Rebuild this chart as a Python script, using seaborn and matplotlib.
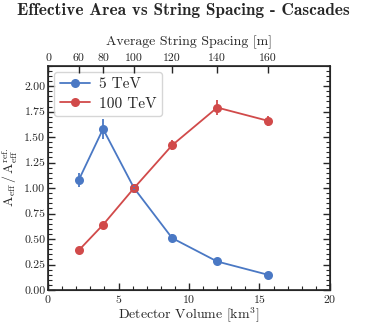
import matplotlib
matplotlib.use('Agg')
import matplotlib.pyplot as plt
import pandas as pd
import seaborn as sns
from matplotlib.ticker import MultipleLocator

# Data
volume = [2.18, 3.9, 6.1, 8.8, 12.0, 15.6]  # km^3
spacing = [60, 80, 100, 120, 140, 160]  # m
ratio_5tev = [1.08, 1.58, 1.00, 0.51, 0.28, 0.15]
err_5tev = [0.07, 0.10, 0.02, 0.04, 0.02, 0.02]
ratio_100tev = [0.39, 0.64, 1.00, 1.42, 1.79, 1.66]
err_100tev = [0.02, 0.02, 0.01, 0.05, 0.07, 0.05]

df = pd.DataFrame({
    'volume': volume * 2,
    'ratio': ratio_5tev + ratio_100tev,
    'err': err_5tev + err_100tev,
    'energy': ['5 TeV'] * 6 + ['100 TeV'] * 6,
})

sns.set_style('ticks')
plt.rcParams['font.family'] = ['cmr10', 'DejaVu Serif']
plt.rcParams['mathtext.fontset'] = 'cm'
plt.rcParams['axes.formatter.use_mathtext'] = True
plt.rcParams['axes.unicode_minus'] = False

colors = {'5 TeV': '#4a78c4', '100 TeV': '#d14a4a'}

fig = plt.figure(figsize=(3.67, 3.27), dpi=100)
ax = fig.add_axes([0.131, 0.113, 0.768, 0.686])

sns.lineplot(data=df, x='volume', y='ratio', hue='energy', palette=colors,
             marker='o', markersize=6.5, markeredgewidth=0, linewidth=1.3,
             ax=ax)
for name, grp in df.groupby('energy', sort=False):
    ax.errorbar(grp['volume'], grp['ratio'], yerr=grp['err'], fmt='none',
                ecolor=colors[name], elinewidth=1.3, capsize=0)

ax.set_xlim(0, 20)
ax.set_ylim(0, 2.2)
ax.xaxis.set_major_locator(MultipleLocator(5))
ax.xaxis.set_minor_locator(MultipleLocator(1))
ax.yaxis.set_major_locator(MultipleLocator(0.25))
ax.yaxis.set_minor_locator(MultipleLocator(0.05))
ax.tick_params(which='both', direction='in', right=True, labelsize=8.5,
               pad=2)
ax.tick_params(which='major', length=5, width=1)
ax.tick_params(which='minor', length=3, width=0.8)
ax.yaxis.set_major_formatter(matplotlib.ticker.FormatStrFormatter('%.2f'))
for s in ax.spines.values():
    s.set_linewidth(1.2)

ax.set_xlabel(r'Detector Volume [km$^3$]', fontsize=10, labelpad=1)
ax.set_ylabel(r'$\mathrm{A}_{\rm eff}\,/\,\mathrm{A}_{\rm eff}^{\rm ref.}$',
              fontsize=10, labelpad=3)

ax.legend(loc='upper left', fontsize=11, frameon=True, handlelength=2.0,
          handletextpad=0.6, borderpad=0.35, labelspacing=0.4,
          borderaxespad=0.4)

# top axis: string spacing
ax2 = ax.twiny()
ax2.set_xlim(ax.get_xlim())
ax2.set_xticks([0] + volume)
ax2.set_xticklabels(['0'] + [str(s) for s in spacing])
ax2.tick_params(direction='in', length=5, width=1, labelsize=8.5, pad=2)
ax2.set_xlabel('Average String Spacing [m]', fontsize=10, labelpad=6)

fig.suptitle('Effective Area vs String Spacing - Cascades', fontsize=12.4,
             fontweight='bold', family=['cmb10', 'DejaVu Serif'], y=0.99)

fig.savefig('out.png', dpi=100)
